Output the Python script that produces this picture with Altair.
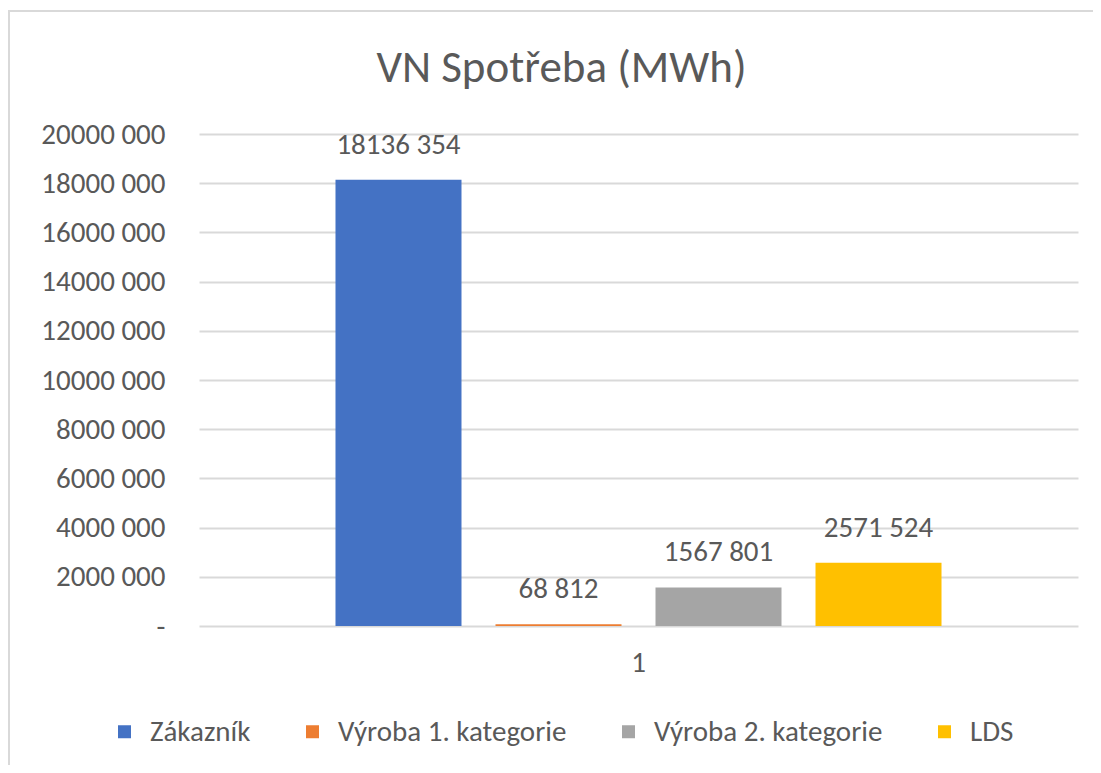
import altair as alt
import pandas as pd

categories = ["1"]
series = ["Zákazník", "Výroba 1. kategorie", "Výroba 2. kategorie", "LDS"]
values = [18136354, 68812, 1567801, 2571524]
colors = ["#4472C4", "#ED7D31", "#A5A5A5", "#FFC000"]
y_ticks = [0, 2000000, 4000000, 6000000, 8000000, 10000000, 12000000,
           14000000, 16000000, 18000000, 20000000]

FONT = "Calibri, Carlito, Lato, sans-serif"
TXT = "#595959"
FS = 29

df = pd.DataFrame({"cat": categories[0], "series": series, "value": values})

base = alt.Chart(df).transform_calculate(
    label="floor(datum.value/1000) + ' ' + format(datum.value % 1000, '03d')"
)

x_enc = alt.X("cat:N", title=None,
              scale=alt.Scale(paddingInner=0, paddingOuter=0.1867),
              axis=alt.Axis(labelAngle=0, domain=False, ticks=False, tickSize=0,
                            labelFontSize=FS, labelColor=TXT, labelFont=FONT,
                            labelPadding=22, grid=False))
xo_enc = alt.XOffset("series:N", sort=series,
                     scale=alt.Scale(domain=series, paddingInner=0.2125, paddingOuter=0.10625))
y_enc = alt.Y("value:Q", title=None,
              scale=alt.Scale(domain=[0, 20000000], nice=False),
              axis=alt.Axis(values=y_ticks, domain=False, ticks=False, tickSize=0,
                            labelFontSize=FS, labelColor=TXT, labelFont=FONT,
                            labelPadding=34, gridColor="#D9D9D9", gridWidth=2,
                            labelExpr="datum.value == 0 ? '-' : format(floor(datum.value/1000), 'd') + ' 000'"))

bars = base.mark_bar().encode(
    x=x_enc, xOffset=xo_enc, y=y_enc,
    color=alt.Color("series:N", sort=series, title=None,
                    scale=alt.Scale(domain=series, range=colors),
                    legend=alt.Legend(orient="none", direction="horizontal",
                                      legendX=-89, legendY=583,
                                      symbolType="square", symbolSize=169,
                                      symbolStrokeWidth=0, labelOffset=11,
                                      columnPadding=47, labelFontSize=FS,
                                      labelFont=FONT, labelColor=TXT,
                                      labelLimit=400))
)

labels = base.mark_text(baseline="bottom", dy=-20, fontSize=FS, font=FONT, color=TXT).encode(
    x=x_enc, xOffset=xo_enc, y=y_enc, text="label:N"
)

border_top = alt.Chart(df).mark_rule(color="#D9D9D9", strokeWidth=2).encode(
    x=alt.value(-191), x2=alt.value(900), y=alt.value(-123)
)
border_left = alt.Chart(df).mark_rule(color="#D9D9D9", strokeWidth=2).encode(
    x=alt.value(-190), y=alt.value(-124), y2=alt.value(640)
)

chart = alt.layer(border_top, border_left, bars, labels).properties(
    width=879, height=492,
    title=alt.TitleParams("VN Spotřeba (MWh)", fontSize=45, font=FONT, color=TXT,
                          fontWeight="normal", anchor="middle", dx=-77, offset=-82),
    autosize=alt.AutoSizeParams(type="none"),
    padding={"left": 191, "top": 126, "right": 15, "bottom": 139},
).configure_view(stroke=None)

chart.save("out.html", embed_options={"renderer": "svg", "actions": False})
